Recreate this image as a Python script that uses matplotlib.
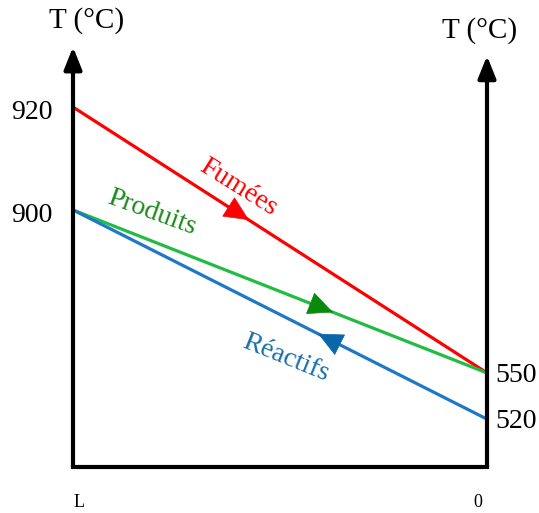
import matplotlib.pyplot as plt

plt.rcParams['font.family'] = ['Liberation Serif', 'DejaVu Serif']

# schematic temperature scale (the picture is not to scale)
temp_levels = [920, 900, 550, 520]
level_pos = [0.857, 0.612, 0.224, 0.114]
pos = dict(zip(temp_levels, level_pos))

# streams: name, T at L, T at 0
names = ['Fumées', 'Produits', 'Réactifs']
t_left = [920, 900, 900]
t_right = [550, 550, 520]
line_colors = ['#ff0000', '#22bb44', '#1f77c8']
head_colors = ['#ff0000', '#0a8a0a', '#0a66a8']
text_colors = ['#ff0000', '#1a8a1a', '#1a70a8']
arrow_at = [0.425, 0.628, 0.592]
arrow_dir = [1, 1, -1]
label_xy = [(0.40, 0.666), (0.19, 0.605), (0.515, 0.260)]
label_rot = [-32, -20, -22]

fig = plt.figure(figsize=(5.39, 5.13), dpi=100)
ax = fig.add_axes([73 / 539, 46 / 513, 414 / 539, 420 / 513])
ax.set_xlim(0, 1)
ax.set_ylim(0, 1)
ax.axis('off')

# axes frame with arrows
ax.plot([0, 1], [0, 0], color='black', lw=3, solid_capstyle='projecting', clip_on=False)
for x, top in [(0, 1.0), (1, 0.979)]:
    ax.annotate('', xy=(x, top), xytext=(x, 0), annotation_clip=False,
                arrowprops=dict(arrowstyle='-|>,head_length=0.75,head_width=0.3', color='black',
                                lw=3, mutation_scale=18, shrinkA=0, shrinkB=0))

for i in range(len(names)):
    y0, y1 = pos[t_left[i]], pos[t_right[i]]
    ax.plot([0, 1], [y0, y1], color=line_colors[i], lw=2.3, clip_on=False, zorder=2)
    f = arrow_at[i]
    tip = (f, y0 + (y1 - y0) * f)
    back = f - 0.002 * arrow_dir[i]
    tail = (back, y0 + (y1 - y0) * back)
    ax.annotate('', xy=tip, xytext=tail,
                arrowprops=dict(arrowstyle='-|>,head_length=0.6,head_width=0.28',
                                color=head_colors[i], lw=0.5, mutation_scale=28,
                                shrinkA=0, shrinkB=0), zorder=3)
    ax.text(label_xy[i][0], label_xy[i][1], names[i], color=text_colors[i], fontsize=20,
            rotation=label_rot[i], rotation_mode='anchor', ha='center', va='center')

# tick labels
for t in [920, 900]:
    ax.text(-0.05, pos[t] - 0.012, str(t), fontsize=20, ha='right', va='center')
for t in [550, 520]:
    ax.text(1.02, pos[t] - 0.005, str(t), fontsize=20, ha='left', va='center')

ax.text(0.015, -0.085, 'L', fontsize=13, ha='center', va='center')
ax.text(0.977, -0.085, '0', fontsize=13, ha='center', va='center')

fig.text(87 / 539, 1 - 21 / 513, 'T (°C)', fontsize=21, ha='center', va='center')
fig.text(480 / 539, 1 - 31 / 513, 'T (°C)', fontsize=21, ha='center', va='center')

fig.savefig('out.png', dpi=100)
